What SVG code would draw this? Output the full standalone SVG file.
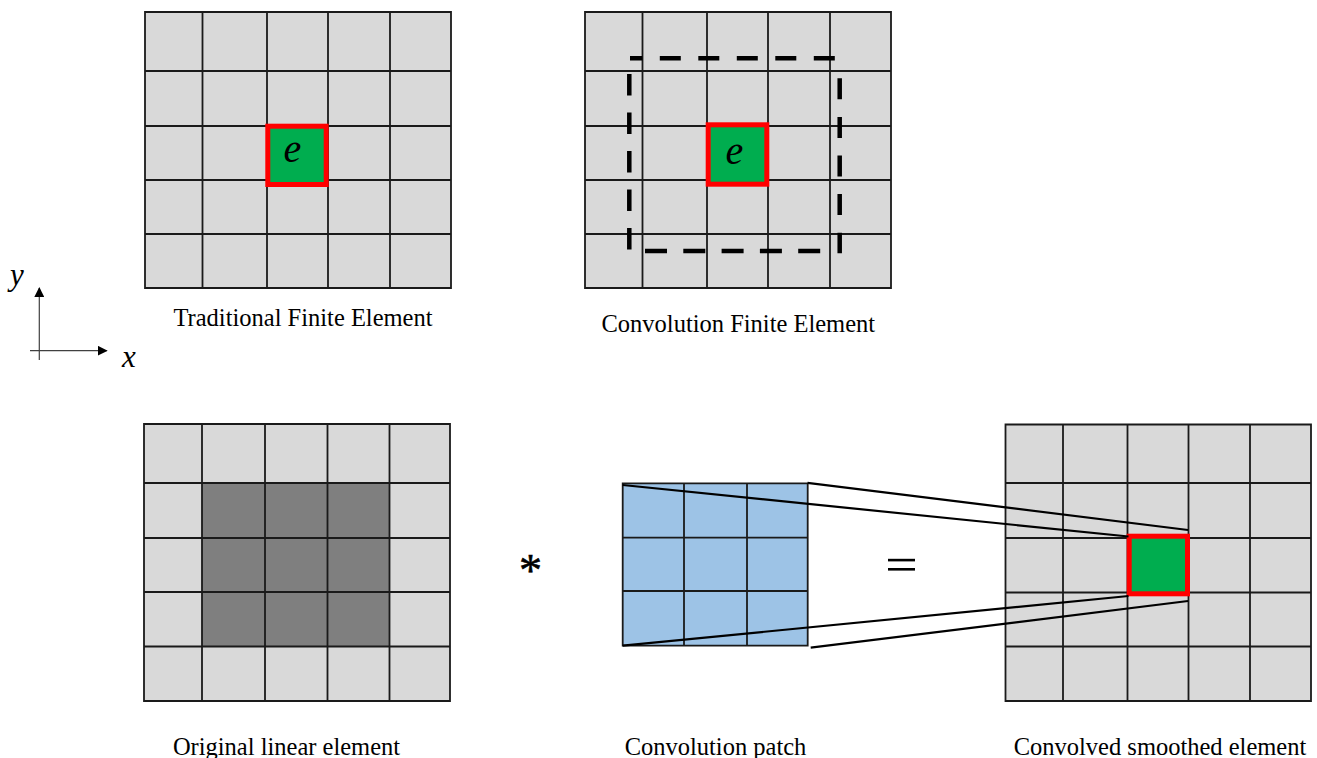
<svg xmlns="http://www.w3.org/2000/svg" width="1317" height="758" viewBox="0 0 1317 758">
<style>
.bg{fill:#d9d9d9;stroke:none}
.g{stroke:#1a1a1a;stroke-width:1.8;fill:none}
.dark{fill:#7f7f7f;stroke:none}
.blue{fill:#9dc3e6;stroke:none}
.red{fill:#00ad4f;stroke:#ff0000;stroke-width:5}
.lbl{font-family:"Liberation Serif","Times New Roman",serif;font-size:24.5px;fill:#000;text-anchor:middle}
.math{font-family:"Liberation Serif","Times New Roman",serif;font-style:italic;fill:#000;text-anchor:middle}
.dash{stroke:#000;stroke-width:4.5;fill:none}
.ln{stroke:#000;stroke-width:2.2;fill:none}
.ax{stroke:#404040;stroke-width:1.2;fill:none}
</style>
<defs>
<marker id="ah" markerWidth="10" markerHeight="10" refX="9" refY="5" orient="auto" markerUnits="userSpaceOnUse">
<path d="M0,0 L10,5 L0,10 Z" fill="#000"/>
</marker>
</defs>

<g id="traditional-fe">
<rect class="bg" x="145" y="12" width="306" height="276"/>
<path class="g" d="M145,12H451V288H145Z M202.5,12V288 M267,12V288 M328,12V288 M390,12V288 M145,71H451 M145,126H451 M145,180H451 M145,234H451"/>
<rect class="red" x="267.8" y="126.2" width="58.4" height="58.3"/>
<text class="math" x="292.5" y="162" font-size="40">e</text>
<text class="lbl" x="303" y="326">Traditional Finite Element</text>
</g>

<g id="convolution-fe">
<rect class="bg" x="585" y="12" width="306" height="276"/>
<path class="g" d="M585,12H891V288H585Z M642.5,12V288 M707,12V288 M768,12V288 M830,12V288 M585,71H891 M585,126H891 M585,180H891 M585,234H891"/>
<line class="dash" x1="630" y1="58.3" x2="843.3" y2="58.3" stroke-dasharray="21 17.5" stroke-dashoffset="8.7"/>
<line class="dash" x1="629.3" y1="74" x2="629.3" y2="249.5" stroke-dasharray="21.5 17"/>
<line class="dash" x1="839.7" y1="78.3" x2="839.7" y2="253.3" stroke-dasharray="21 17.6"/>
<line class="dash" x1="645" y1="251" x2="820.7" y2="251" stroke-dasharray="22 16.3"/>
<rect class="red" x="708.2" y="124.8" width="58.6" height="59.4"/>
<text class="math" x="734.5" y="164" font-size="40">e</text>
<text class="lbl" x="738.3" y="331.5">Convolution Finite Element</text>
</g>

<g id="axes">
<line class="ax" x1="39.3" y1="360" x2="39.3" y2="288" marker-end="url(#ah)"/>
<line class="ax" x1="30" y1="350.7" x2="106.7" y2="350.7" marker-end="url(#ah)"/>
<text class="math" x="17" y="285" font-size="31">y</text>
<text class="math" x="129" y="367" font-size="31">x</text>
</g>

<g id="original-linear-element">
<rect class="bg" x="144" y="424" width="306" height="277"/>
<rect class="dark" x="202" y="483" width="187.5" height="163.5"/>
<path class="g" d="M144,424H450V701H144Z M202,424V701 M265,424V701 M327.5,424V701 M389.5,424V701 M144,483H450 M144,538H450 M144,592H450 M144,646.5H450"/>
<text class="lbl" x="286.5" y="754.7">Original linear element</text>
</g>

<g id="operator-star">
<text x="530.5" y="586" font-family="Liberation Serif, Times New Roman, serif" font-size="46" text-anchor="middle" fill="#000" stroke="#000" stroke-width="0.6">*</text>
</g>

<g id="convolution-patch">
<rect class="blue" x="622.7" y="483.3" width="185" height="162.4"/>
<path class="g" d="M622.7,483.3H807.7V645.7H622.7Z M684,483.3V645.7 M747,483.3V645.7 M622.7,537.7H807.7 M622.7,591H807.7"/>
<text class="lbl" x="715.5" y="754.7">Convolution patch</text>
</g>

<g id="operator-equals">
<rect x="888" y="558.8" width="27" height="2.6" fill="#000"/>
<rect x="888" y="568" width="27" height="2.6" fill="#000"/>
</g>

<g id="convolved-smoothed-element">
<rect class="bg" x="1005.5" y="424.5" width="305.5" height="276.5"/>
<path class="g" d="M1005.5,424.5H1311V701H1005.5Z M1063,424.5V701 M1127.5,424.5V701 M1188.5,424.5V701 M1250,424.5V701 M1005.5,483H1311 M1005.5,538H1311 M1005.5,592.5H1311 M1005.5,646.5H1311"/>
<rect class="red" x="1129.2" y="536.2" width="58.3" height="57.6"/>
<text class="lbl" x="1160" y="754.7">Convolved smoothed element</text>
</g>

<g id="connectors">
<line class="ln" x1="622.7" y1="485" x2="1128.5" y2="536.5"/>
<line class="ln" x1="807.5" y1="482.8" x2="1188" y2="530"/>
<line class="ln" x1="622.7" y1="645.7" x2="1128.5" y2="596"/>
<line class="ln" x1="810.7" y1="647.7" x2="1188" y2="601"/>
</g>
</svg>
